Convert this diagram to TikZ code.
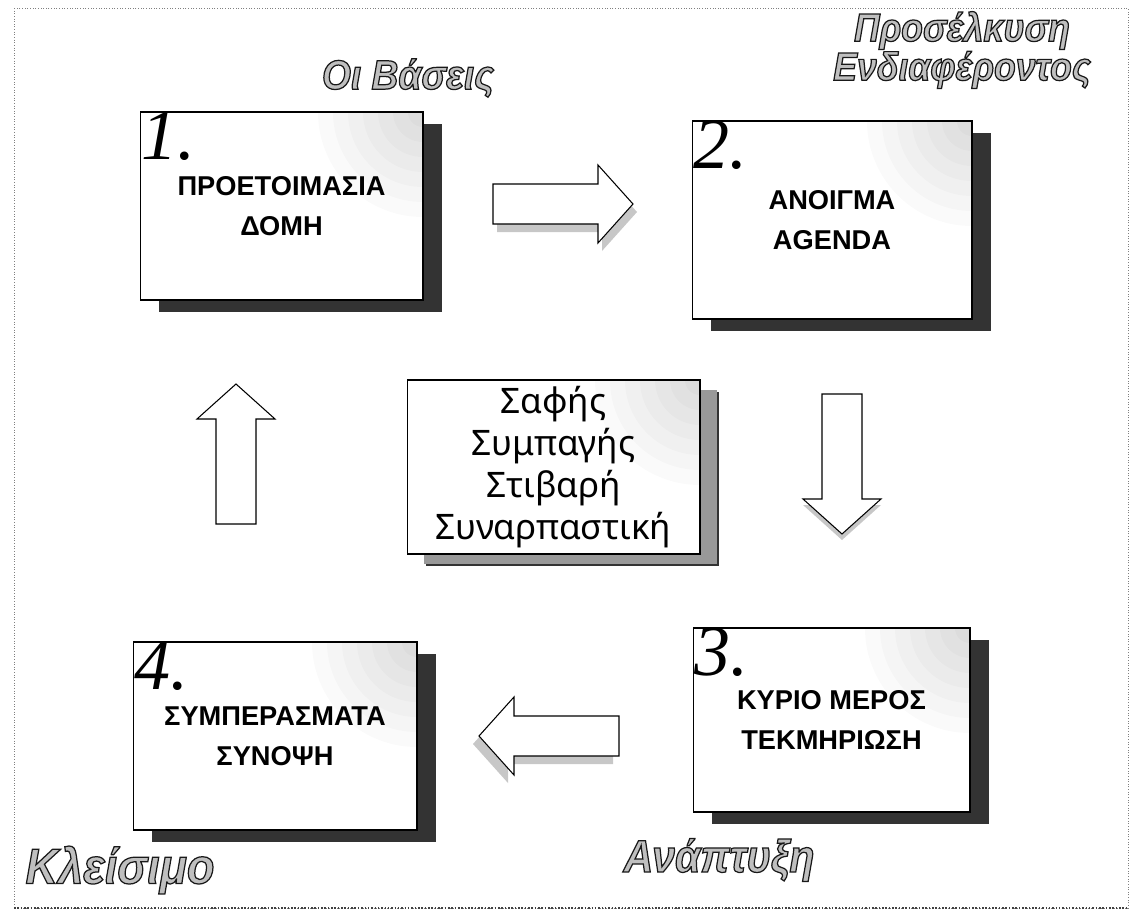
\documentclass[tikz,border=0pt]{standalone}
\usepackage{fontspec}
\setmainfont{Liberation Sans}
\newfontfamily\numfont{Liberation Serif}
\newfontfamily\wordfont{Liberation Sans}[FakeStretch=0.9]
\newfontfamily\midfont{Noto Sans}
\usetikzlibrary{shadows}

% hollow (outlined) letters for the stage titles
\newcommand{\hollow}[1]{\special{pdf:literal direct q 2 Tr 0.7 w 0.1 G}#1\special{pdf:literal direct Q}}

% block arrow: centre, angle, shadow shift
\newcommand{\bigarrow}[3]{%
  \begin{scope}[shift={#1}]
    \fill[arrowshade, shift={#3}, rotate=#2] (-70,-20) -- (35,-20) -- (35,-39) -- (70,0) -- (35,39) -- (35,20) -- (-70,20) -- cycle;
    \draw[arrowbox, rotate=#2] (-70,-20) -- (35,-20) -- (35,-39) -- (70,0) -- (35,39) -- (35,20) -- (-70,20) -- cycle;
  \end{scope}}

\begin{document}
\begin{tikzpicture}[x=0.02cm, y=-0.02cm,
  stepbox/.style={draw, fill=white, line width=0.6pt, align=center,
    font=\bfseries\fontsize{15.5}{22.5}\selectfont,
    drop shadow={shadow xshift=0.38cm, shadow yshift=-0.24cm, opacity=1, fill=black!80},
    path picture={\foreach \r in {1,...,7}
      \fill[black, opacity=0.02] (path picture bounding box.north east) circle (\r*0.3cm);}},
  numlabel/.style={anchor=north west, inner sep=0pt, xshift=1pt,
    font=\numfont\itshape\fontsize{41}{41}\selectfont},
  hollowtext/.style={text=black!25, inner sep=0pt},
  arrowbox/.style={draw, fill=white, line width=0.6pt, line join=miter},
  arrowshade/.style={fill=black!22}]
\useasboundingbox (0,0) rectangle (1134,916);

% page frame
\draw[black!50, densely dotted, line width=0.5pt] (14,8) rectangle (1128,908);
\draw[black!75, densely dotted, line width=0.9pt] (14,908) -- (1128,908);

% stage boxes
\node[stepbox, minimum width=5.66cm, minimum height=3.76cm] (prep) at (281.5,206) {ΠΡΟΕΤΟΙΜΑΣΙΑ\\ΔΟΜΗ};
\node[stepbox, minimum width=5.6cm, minimum height=3.96cm] (open) at (832,220) {ΑΝΟΙΓΜΑ\\AGENDA};
\node[stepbox, minimum width=5.54cm, minimum height=3.68cm] (body) at (831.5,720) {ΚΥΡΙΟ ΜΕΡΟΣ\\ΤΕΚΜΗΡΙΩΣΗ};
\node[stepbox, minimum width=5.68cm, minimum height=3.76cm] (close) at (275,736) {ΣΥΜΠΕΡΑΣΜΑΤΑ\\ΣΥΝΟΨΗ};

\node[numlabel] (n1) at (prep.north west) {1.};
\node[numlabel] (n2) at (open.north west) {2.};
\node[numlabel] (n3) at (body.north west) {3.};
\node[numlabel] (n4) at (close.north west) {4.};

% centre box
\node[stepbox, minimum width=5.86cm, minimum height=3.48cm,
  font=\midfont\fontsize{20}{23.8}\selectfont,
  drop shadow={shadow xshift=0.34cm, shadow yshift=-0.2cm, opacity=1, fill=black!40}]
  (qual) at (553.5,467) {Σαφής\\Συμπαγής\\Στιβαρή\\Συναρπαστική};

% arrows between the stages
\bigarrow{(563,204)}{0}{(4,8)}
\bigarrow{(842,464)}{270}{(0,6)}
\bigarrow{(549,736)}{180}{(-6,8)}
\bigarrow{(236,454)}{90}{(0,0)}

% stage titles
\node[hollowtext, font=\wordfont\bfseries\itshape\fontsize{23.5}{23.5}\selectfont] (basis) at (408,78) {\hollow{Οι Βάσεις}};
\node[hollowtext, align=center, font=\wordfont\bfseries\itshape\fontsize{22.5}{19.5}\selectfont] (interest) at (962,50)
  {\hollow{Προσέλκυση}\\\hollow{Ενδιαφέροντος}};
\node[hollowtext, font=\wordfont\bfseries\itshape\fontsize{26}{26}\selectfont] (growth) at (719,860) {\hollow{Ανάπτυξη}};
\node[hollowtext, font=\wordfont\bfseries\itshape\fontsize{28.5}{28.5}\selectfont] (ending) at (120,870) {\hollow{Κλείσιμο}};
\end{tikzpicture}
\end{document}
